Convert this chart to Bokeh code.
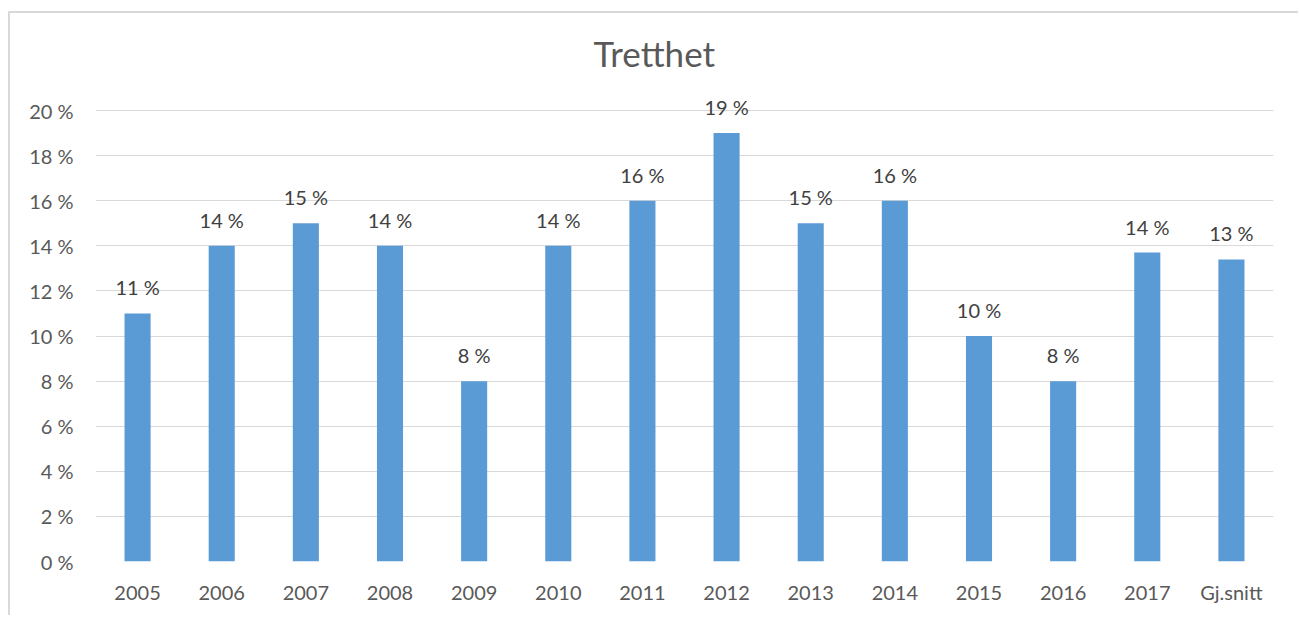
from bokeh.plotting import figure
from bokeh.models import ColumnDataSource, PrintfTickFormatter, FixedTicker, Range1d, Title
from bokeh.embed import file_html
from bokeh.resources import INLINE

categories = ["2005", "2006", "2007", "2008", "2009", "2010", "2011",
              "2012", "2013", "2014", "2015", "2016", "2017", "Gj.snitt"]
values = [11, 14, 15, 14, 8, 14, 16, 19, 15, 16, 10, 8, 13.7, 13.4]
labels = [f"{round(v)} %" for v in values]
y_ticks = [0, 2, 4, 6, 8, 10, 12, 14, 16, 18, 20]

FONT = "Lato"
source = ColumnDataSource(dict(cat=categories, val=values, lab=labels))

p = figure(x_range=categories, y_range=Range1d(0, 21.6),
           width=1290, height=604, output_backend="svg", toolbar_location=None,
           min_border_left=85, min_border_right=27, min_border_top=61, min_border_bottom=56)
p.margin = (11, 0, 0, 8)
p.styles = {"border-top": "2px solid #d9d9d9", "border-left": "2px solid #d9d9d9"}

t = Title(text="Tretthet", align="left", text_font=FONT, text_font_size="35px",
          text_color="#595959", text_font_style="normal", standoff=2, offset=498)
p.add_layout(t, "above")

p.vbar(x="cat", top="val", width=0.31, source=source, color="#5B9BD5", line_color=None)
p.text(x="cat", y="val", text="lab", source=source, text_align="center",
       text_baseline="alphabetic", y_offset=-26, text_font_size="20px",
       text_color="#404040", text_font={"value": FONT})

p.outline_line_color = None
p.xgrid.grid_line_color = None
p.ygrid.grid_line_color = "#d9d9d9"
p.ygrid.ticker = FixedTicker(ticks=y_ticks)

p.yaxis.ticker = FixedTicker(ticks=y_ticks)
p.yaxis.formatter = PrintfTickFormatter(format="%d %%")
for ax in (p.xaxis[0], p.yaxis[0]):
    ax.axis_line_color = None
    ax.major_tick_line_color = None
    ax.minor_tick_line_color = None
    ax.major_label_text_font = FONT
    ax.major_label_text_font_size = "20px"
    ax.major_label_text_color = "#595959"
p.yaxis.major_label_standoff = 16
p.xaxis.major_label_standoff = 12

open("out.html", "w").write(file_html(p, INLINE))
